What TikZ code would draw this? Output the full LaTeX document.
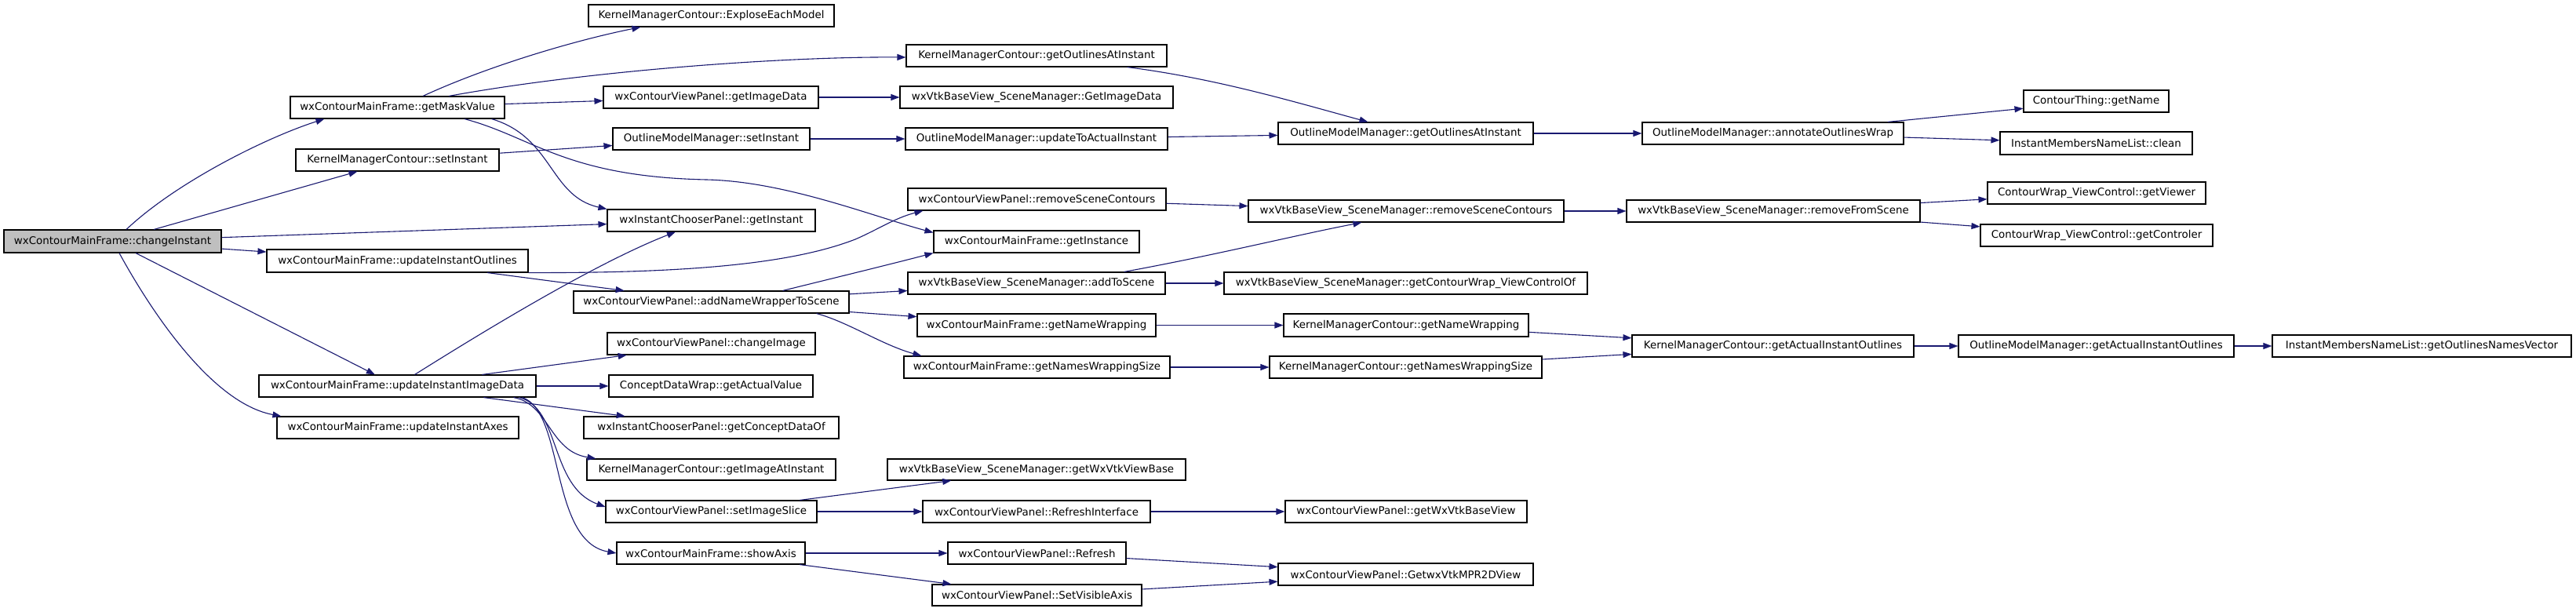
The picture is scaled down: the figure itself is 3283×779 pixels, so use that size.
\documentclass[tikz,border=0pt]{standalone}
\usepackage{fontspec}
\setmainfont{DejaVu Sans}
\usetikzlibrary{arrows.meta}
\definecolor{edgeblue}{RGB}{25,25,112}
\definecolor{rootgrey}{RGB}{191,191,191}
\newcommand\mkbox[7][]{\node[fnbox,#1, minimum width={#5-#3}, minimum height={#6-#4}] (#2) at ({(#3+#5)/2},{(#4+#6)/2}) {#7};}
\begin{document}
\begin{tikzpicture}[x=1pt,y=-1pt,
  fnbox/.style={draw=black, line width=1.1pt, fill=white, inner sep=0pt, font=\fontsize{13.4}{16}\selectfont},
  call/.style={draw=edgeblue, line width=1.1pt, -{Triangle[length=11pt,width=8pt]}}]
\useasboundingbox (0,0) rectangle (3283,779);
\mkbox[fill=rootgrey]{ci}{5}{293}{282}{322}{wxContourMainFrame::changeInstant}
\mkbox{gmv}{370}{123}{643}{151}{wxContourMainFrame::getMaskValue}
\mkbox{ksi}{377}{190}{636}{218}{KernelManagerContour::setInstant}
\mkbox{uio}{340}{318}{673}{347}{wxContourMainFrame::updateInstantOutlines}
\mkbox{uiid}{330}{478}{683}{506}{wxContourMainFrame::updateInstantImageData}
\mkbox{uia}{353}{531}{661}{559}{wxContourMainFrame::updateInstantAxes}
\mkbox{eem}{750}{6}{1063}{34}{KernelManagerContour::ExploseEachModel}
\mkbox{vpgid}{769}{110}{1043}{138}{wxContourViewPanel::getImageData}
\mkbox{omsi}{781}{163}{1032}{191}{OutlineModelManager::setInstant}
\mkbox{icgi}{774}{267}{1039}{295}{wxInstantChooserPanel::getInstant}
\mkbox{anw}{731}{371}{1082}{399}{wxContourViewPanel::addNameWrapperToScene}
\mkbox{cimg}{774}{424}{1039}{452}{wxContourViewPanel::changeImage}
\mkbox{gav}{776}{478}{1036}{506}{ConceptDataWrap::getActualValue}
\mkbox{gcd}{744}{531}{1069}{559}{wxInstantChooserPanel::getConceptDataOf}
\mkbox{giai}{748}{585}{1065}{612}{KernelManagerContour::getImageAtInstant}
\mkbox{sis}{772}{638}{1041}{666}{wxContourViewPanel::setImageSlice}
\mkbox{sax}{786}{691}{1026}{719}{wxContourMainFrame::showAxis}
\mkbox{kgoi}{1155}{57}{1487}{85}{KernelManagerContour::getOutlinesAtInstant}
\mkbox{smgid}{1147}{110}{1495}{138}{wxVtkBaseView\_SceneManager::GetImageData}
\mkbox{utai}{1154}{163}{1488}{191}{OutlineModelManager::updateToActualInstant}
\mkbox{vprsc}{1157}{240}{1486}{268}{wxContourViewPanel::removeSceneContours}
\mkbox{gins}{1190}{294}{1452}{322}{wxContourMainFrame::getInstance}
\mkbox{ats}{1157}{347}{1485}{375}{wxVtkBaseView\_SceneManager::addToScene}
\mkbox{mgnw}{1169}{400}{1473}{429}{wxContourMainFrame::getNameWrapping}
\mkbox{mgnws}{1152}{454}{1491}{482}{wxContourMainFrame::getNamesWrappingSize}
\mkbox{gwvvb}{1131}{585}{1511}{612}{wxVtkBaseView\_SceneManager::getWxVtkViewBase}
\mkbox{ri}{1176}{638}{1466}{666}{wxContourViewPanel::RefreshInterface}
\mkbox{rf}{1208}{691}{1435}{719}{wxContourViewPanel::Refresh}
\mkbox{sva}{1188}{745}{1455}{772}{wxContourViewPanel::SetVisibleAxis}
\mkbox{ogoi}{1629}{156}{1954}{184}{OutlineModelManager::getOutlinesAtInstant}
\mkbox{smrsc}{1591}{255}{1993}{283}{wxVtkBaseView\_SceneManager::removeSceneContours}
\mkbox{gcwv}{1560}{347}{2023}{375}{wxVtkBaseView\_SceneManager::getContourWrap\_ViewControlOf}
\mkbox{kgnw}{1636}{400}{1948}{429}{KernelManagerContour::getNameWrapping}
\mkbox{kgnws}{1618}{454}{1965}{482}{KernelManagerContour::getNamesWrappingSize}
\mkbox{gwbv}{1638}{638}{1946}{666}{wxContourViewPanel::getWxVtkBaseView}
\mkbox{mpr}{1629}{718}{1954}{746}{wxContourViewPanel::GetwxVtkMPR2DView}
\mkbox{kgai}{2080}{427}{2439}{455}{KernelManagerContour::getActualInstantOutlines}
\mkbox{aow}{2093}{156}{2426}{184}{OutlineModelManager::annotateOutlinesWrap}
\mkbox{ctgn}{2579}{115}{2764}{143}{ContourThing::getName}
\mkbox{cln}{2549}{168}{2794}{197}{InstantMembersNameList::clean}
\mkbox{rfs}{2073}{255}{2447}{283}{wxVtkBaseView\_SceneManager::removeFromScene}
\mkbox{gvw}{2533}{232}{2811}{260}{ContourWrap\_ViewControl::getViewer}
\mkbox{gctl}{2524}{286}{2820}{314}{ContourWrap\_ViewControl::getControler}
\mkbox{ogai}{2496}{427}{2847}{455}{OutlineModelManager::getActualInstantOutlines}
\mkbox{gonv}{2896}{427}{3277}{455}{InstantMembersNameList::getOutlinesNamesVector}
% edges
\draw[call] ([xshift=17.5]ci.north) .. controls (225,232) and (340,175) .. ([xshift=44]gmv.south west);
\draw[call] (ci) -- (ksi);
\draw[call] (ci) -- (icgi);
\draw[call] (ci) -- (uio);
\draw[call] (ci) -- (uiid);
\draw[call] ([xshift=8.5]ci.south) .. controls (200,410) and (275,515) .. ([xshift=6]uia.north west);
\draw[call] ([xshift=32.5]gmv.north) .. controls (620,85) and (730,52) .. ([xshift=67]eem.south west);
\draw[call] ([xshift=65.5]gmv.north) .. controls (750,90) and (1000,72) .. ([yshift=-2]kgoi.west);
\draw[call] (gmv) -- (vpgid);
\draw[call] ([xshift=-17]gmv.south east) .. controls (705,175) and (700,250) .. (icgi.north west);
\draw[call] ([xshift=85.5]gmv.south) .. controls (680,175) and (720,225) .. (900,229) .. controls (1000,231) and (1110,275) .. ([yshift=-3]gins.north west);
\draw[call] (ksi) -- (omsi);
\draw[call] (uio.south east) .. controls (850,348) and (1000,340) .. (1090,305) .. controls (1120,292) and (1140,278) .. ([xshift=20]vprsc.south west);
\draw[call] (uio) -- (anw);
\draw[call] ([xshift=22]uiid.north) .. controls (620,420) and (760,335) .. ([xshift=-45.5]icgi.south);
\draw[call] (uiid) -- (cimg);
\draw[call] (uiid) -- (gav);
\draw[call] (uiid) -- (gcd);
\draw[call] ([xshift=-29]uiid.south east) .. controls (700,515) and (700,575) .. ([xshift=12]giai.north west);
\draw[call] ([xshift=-22]uiid.south east) .. controls (715,520) and (700,620) .. ([yshift=6]sis.west);
\draw[call] ([xshift=-18]uiid.south east) .. controls (720,525) and (700,690) .. (sax.west);
\draw[call] (vpgid) -- (smgid);
\draw[call] (omsi) -- (utai);
\draw[call] ([xshift=-51]kgoi.south east) .. controls (1550,100) and (1650,130) .. ([xshift=115]ogoi.north west);
\draw[call] (utai) -- (ogoi);
\draw[call] (ogoi) -- (aow);
\draw[call] (aow) -- (ctgn);
\draw[call] (aow) -- (cln);
\draw[call] (vprsc) -- (smrsc);
\draw[call] (smrsc) -- (rfs);
\draw[call] (rfs) -- (gvw);
\draw[call] (rfs) -- (gctl);
\draw[call] ([xshift=-53]ats.north east) .. controls (1550,325) and (1650,300) .. ([xshift=145]smrsc.south west);
\draw[call] ([xshift=-85]anw.north east) .. controls (1060,355) and (1130,338) .. (gins.south west);
\draw[call] (anw) -- (ats);
\draw[call] (anw) -- (mgnw);
\draw[call] ([xshift=-42]anw.south east) .. controls (1080,410) and (1125,440) .. ([xshift=23]mgnws.north west);
\draw[call] (ats) -- (gcwv);
\draw[call] (mgnw) -- (kgnw);
\draw[call] (mgnws) -- (kgnws);
\draw[call] (kgnw) -- (kgai);
\draw[call] (kgnws) -- (kgai);
\draw[call] (kgai) -- (ogai);
\draw[call] (ogai) -- (gonv);
\draw[call] (sis) -- (gwvvb);
\draw[call] (sis) -- (ri);
\draw[call] (ri) -- (gwbv);
\draw[call] (sax) -- (rf);
\draw[call] (sax) -- (sva);
\draw[call] (rf) -- (mpr);
\draw[call] (sva) -- (mpr);
\end{tikzpicture}
\end{document}
